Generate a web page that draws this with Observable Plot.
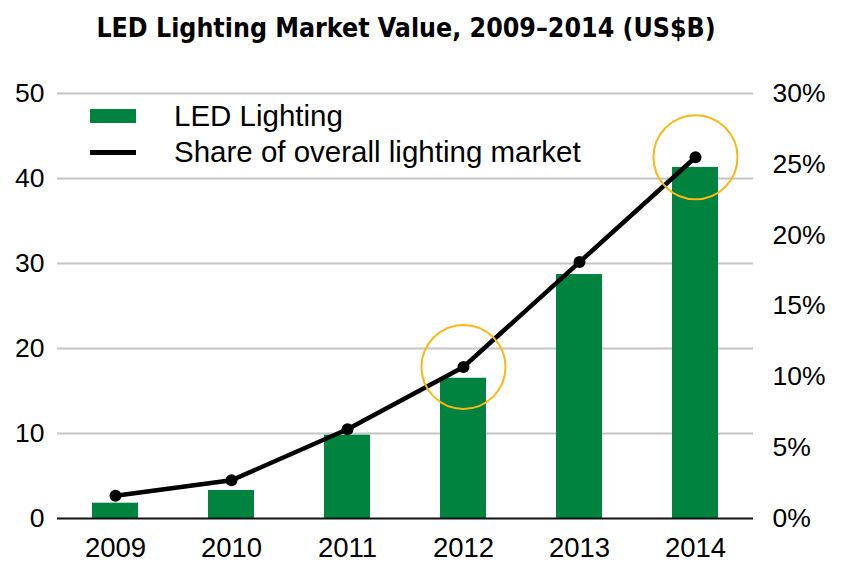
<!DOCTYPE html>
<html>
<head>
<meta charset="utf-8">
<script src="https://cdn.jsdelivr.net/npm/d3@7"></script>
<script src="https://cdn.jsdelivr.net/npm/@observablehq/plot@0.6"></script>
<style>
  body { margin: 0; background: #fff; }
  #wrap { position: relative; width: 843px; height: 563px; font-family: "Liberation Sans", Arial, sans-serif; }
  #title { height: 60px; width: 843px; box-sizing: border-box; padding-right: 31px; padding-top: 12px;
    text-align: center; font-family: "Liberation Sans Narrow", "DejaVu Sans Condensed", "Liberation Sans", sans-serif;
    font-weight: bold; font-size: 26.5px; color: #000; line-height: 32px; }
  .leg { position: absolute; left: 90px; display: flex; align-items: center; font-size: 29.5px; color: #000; }
  .sw { width: 46px; margin-right: 38px; }
</style>
</head>
<body>
<div id="wrap">
  <div id="title">LED Lighting Market Value, 2009–2014 (US$B)</div>
  <div id="chart"></div>
  <div class="leg" style="top:99px;"><div class="sw" style="height:14px;background:#00833e;"></div><span>LED Lighting</span></div>
  <div class="leg" style="top:135px;"><div class="sw" style="height:5px;background:#000;"></div><span>Share of overall lighting market</span></div>
</div>
<script>
const years = ["2009", "2010", "2011", "2012", "2013", "2014"];
const ledValue = [1.8, 3.3, 9.8, 16.5, 28.7, 41.3];
const sharePct = [1.6, 2.7, 6.3, 10.7, 18.1, 25.5];
const highlightYears = ["2012", "2014"];
const leftTicks = [0, 10, 20, 30, 40, 50];
const rightTicks = [0, 5, 10, 15, 20, 25, 30];

const data = years.map((y, i) => ({year: y, value: ledValue[i], share: sharePct[i]}));
const toLeft = p => p * 50 / 30;

const chart = Plot.plot({
  width: 843,
  height: 503,
  marginTop: 33,
  marginBottom: 45,
  marginLeft: 57,
  marginRight: 90,
  style: {fontFamily: "'Liberation Sans', Arial, sans-serif", fontSize: "26.5px", color: "#000", background: "#fff"},
  x: {domain: years, paddingInner: 0.6, paddingOuter: 0.28, label: null},
  y: {domain: [0, 50], label: null},
  marks: [
    Plot.gridY(leftTicks.filter(d => d > 0), {stroke: "#c4c4c4", strokeWidth: 2, strokeOpacity: 1}),
    Plot.barY(data, {x: "year", y: "value", fill: "#00833e"}),
    Plot.ruleY([0], {stroke: "#111", strokeWidth: 2}),
    Plot.line(data, {x: "year", y: d => toLeft(d.share), stroke: "#000", strokeWidth: 4.5}),
    Plot.dot(data, {x: "year", y: d => toLeft(d.share), r: 6, fill: "#000"}),
    Plot.dot(data.filter(d => highlightYears.includes(d.year)), {x: "year", y: d => toLeft(d.share), r: 42, stroke: "#fbb714", strokeWidth: 2, fill: "none"}),
    Plot.axisY({ticks: leftTicks, tickSize: 0, tickPadding: 13, label: null}),
    Plot.axisY({anchor: "right", ticks: rightTicks.map(toLeft), tickFormat: d => Math.round(d * 30 / 50) + "%", tickSize: 0, tickPadding: 19, label: null}),
    Plot.axisX({tickSize: 0, tickPadding: 19, fontSize: 27.5, label: null})
  ]
});
document.getElementById("chart").appendChild(chart);
</script>
</body>
</html>
